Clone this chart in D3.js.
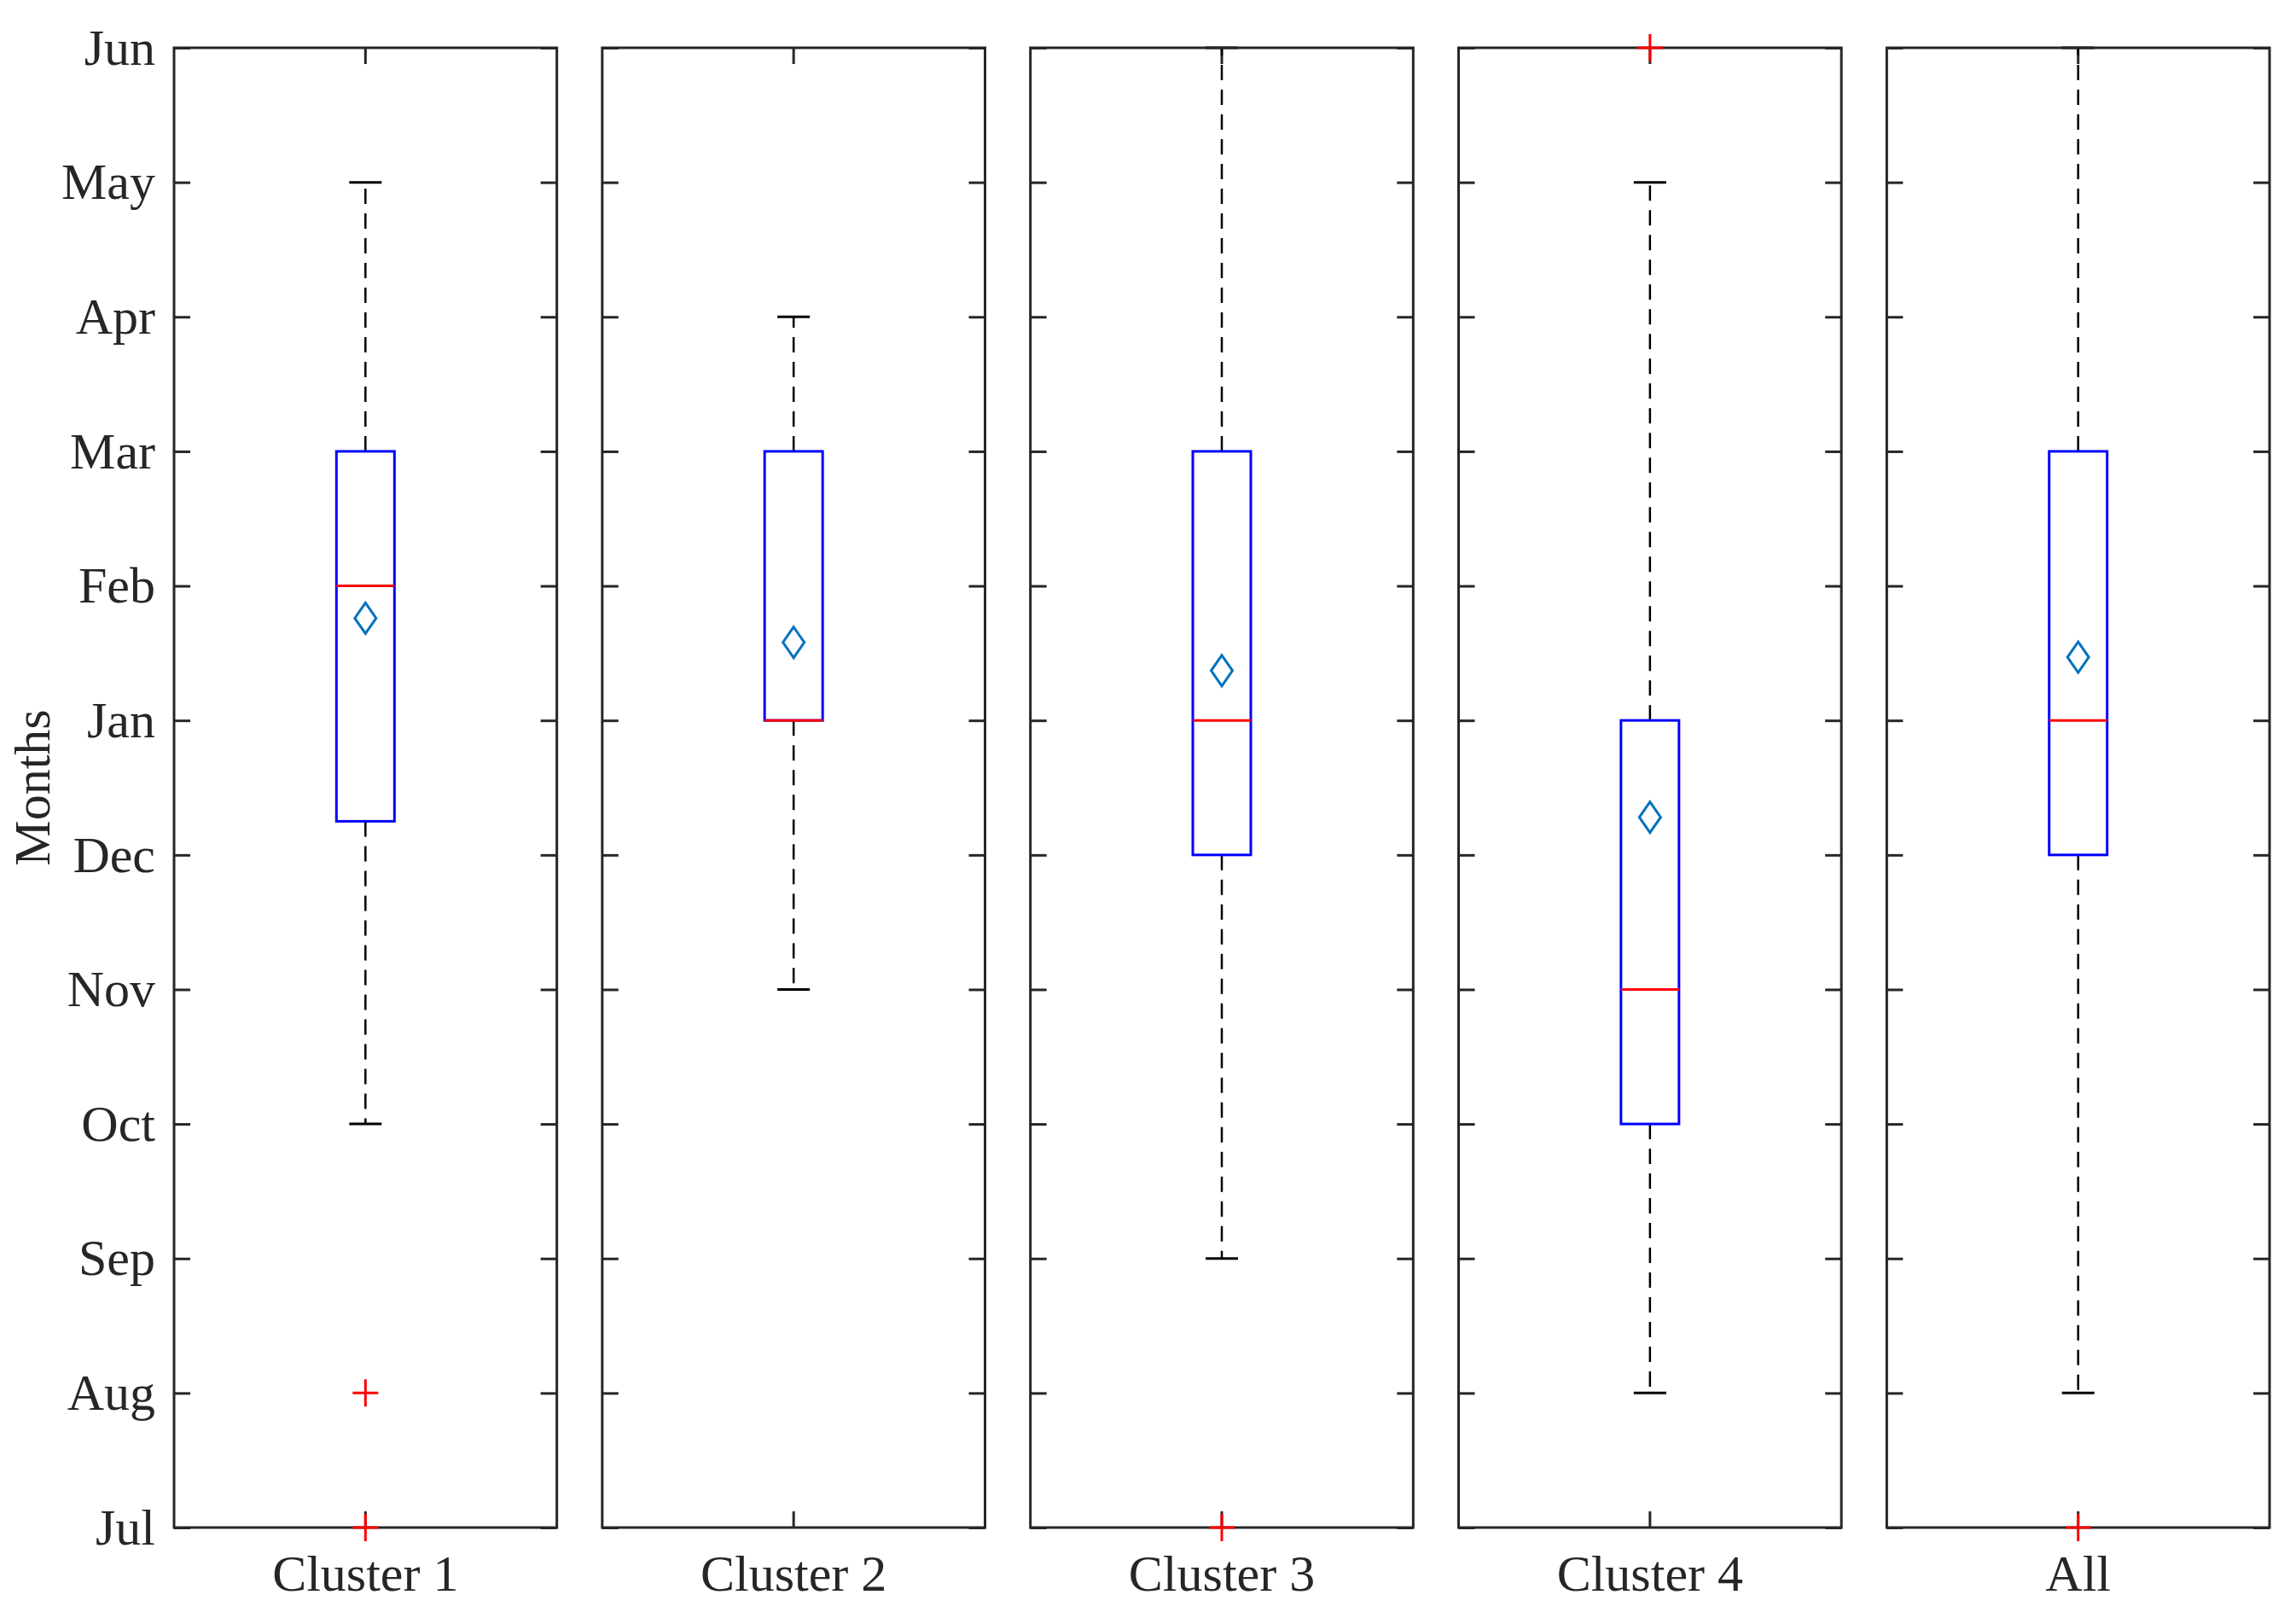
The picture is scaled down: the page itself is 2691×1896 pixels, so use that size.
<!DOCTYPE html>
<html>
<head>
<meta charset="utf-8">
<script src="https://cdn.jsdelivr.net/npm/d3@7"></script>
<style>
  body { margin: 0; background: #fff; }
  text { font-family: "Liberation Serif", serif; fill: #262626; }
</style>
</head>
<body>
<div id="chart"></div>
<script>
// box plot data, months counted from Jul = 0 up to Jun = 11
var categories = ["Cluster 1", "Cluster 2", "Cluster 3", "Cluster 4", "All"];
var whiskerLow = [3, 4, 2, 1, 1];
var q1 = [5.25, 6, 5, 3, 5];
var medians = [7, 6, 6, 4, 6];
var q3 = [8, 8, 8, 6, 8];
var whiskerHigh = [10, 9, 11, 10, 11];
var means = [6.76, 6.58, 6.37, 5.28, 6.47];
var outliers = [[1, 0], [], [0], [11], [0]];
var monthLabels = ["Jul", "Aug", "Sep", "Oct", "Nov", "Dec", "Jan", "Feb", "Mar", "Apr", "May", "Jun"];

var width = 2691, height = 1896;
var margin = {top: 56, left: 204, right: 31, bottom: 106};
var tickLen = 19;
var boxW = 68, capW = 38;
var fontSize = "60px";

var svg = d3.select("#chart")
    .append("svg")
    .attr("width", width)
    .attr("height", height);

var panelX = d3.scaleBand()
    .domain(categories)
    .range([margin.left, width - margin.right])
    .paddingInner(0.106);

var y = d3.scaleLinear()
    .domain([0, 11])
    .range([height - margin.bottom, margin.top]);

var months = d3.range(monthLabels.length);

categories.forEach(function(c, i) {
    var x0 = panelX(c), x1 = x0 + panelX.bandwidth();
    var x = d3.scaleBand().domain([c]).range([x0, x1]);
    var cx = x(c) + x.bandwidth() / 2;
    var g = svg.append("g");

    // left ticks (labels only on the first panel)
    g.append("g")
        .attr("transform", "translate(" + x0 + ",0)")
        .call(d3.axisLeft(y).tickValues(months)
            .tickFormat(function(d) { return i == 0 ? monthLabels[d] : ""; })
            .tickSizeInner(-tickLen).tickSizeOuter(0).tickPadding(22));
    g.append("g")
        .attr("transform", "translate(" + x1 + ",0)")
        .call(d3.axisRight(y).tickValues(months).tickFormat("")
            .tickSizeInner(-tickLen).tickSizeOuter(0));
    g.append("g")
        .attr("transform", "translate(0," + y(11) + ")")
        .call(d3.axisTop(x).tickFormat("").tickSizeInner(-tickLen).tickSizeOuter(0));
    g.append("g")
        .attr("transform", "translate(0," + y(0) + ")")
        .call(d3.axisBottom(x).tickSizeInner(-tickLen).tickSizeOuter(0).tickPadding(31));

    g.selectAll(".domain").remove();
    g.selectAll(".tick line").attr("stroke", "#262626").attr("stroke-width", 3);
    g.selectAll(".tick text")
        .style("font-size", fontSize)
        .attr("fill", "#262626");

    // whiskers
    g.append("line")
        .attr("x1", cx).attr("x2", cx)
        .attr("y1", y(q3[i])).attr("y2", y(whiskerHigh[i]))
        .attr("stroke", "#000").attr("stroke-width", 2.5)
        .attr("stroke-dasharray", "18,11");
    g.append("line")
        .attr("x1", cx).attr("x2", cx)
        .attr("y1", y(q1[i])).attr("y2", y(whiskerLow[i]))
        .attr("stroke", "#000").attr("stroke-width", 2.5)
        .attr("stroke-dasharray", "18,11");
    [whiskerLow[i], whiskerHigh[i]].forEach(function(v) {
        g.append("line")
            .attr("x1", cx - capW / 2).attr("x2", cx + capW / 2)
            .attr("y1", y(v)).attr("y2", y(v))
            .attr("stroke", "#000").attr("stroke-width", 3);
    });

    // box
    g.append("rect")
        .attr("x", cx - boxW / 2)
        .attr("y", y(q3[i]))
        .attr("width", boxW)
        .attr("height", y(q1[i]) - y(q3[i]))
        .attr("fill", "none")
        .attr("stroke", "#0000ff")
        .attr("stroke-width", 3);

    // median
    g.append("line")
        .attr("x1", cx - boxW / 2).attr("x2", cx + boxW / 2)
        .attr("y1", y(medians[i])).attr("y2", y(medians[i]))
        .attr("stroke", "#ff0000").attr("stroke-width", 3);

    // mean diamond
    var my = y(means[i]);
    g.append("path")
        .attr("d", "M" + cx + "," + (my - 18) + "L" + (cx + 12.5) + "," + my +
            "L" + cx + "," + (my + 18) + "L" + (cx - 12.5) + "," + my + "Z")
        .attr("fill", "none")
        .attr("stroke", "#0072bd")
        .attr("stroke-width", 3);

    // frame
    g.append("rect")
        .attr("x", x0).attr("y", y(11))
        .attr("width", x1 - x0).attr("height", y(0) - y(11))
        .attr("fill", "none")
        .attr("stroke", "#262626")
        .attr("stroke-width", 3);

    // outliers
    g.selectAll(".outlier")
        .data(outliers[i])
        .enter().append("path")
        .attr("class", "outlier")
        .attr("d", function(v) {
            var py = y(v);
            return "M" + (cx - 15) + "," + py + "h30M" + cx + "," + (py - 16) + "v32";
        })
        .attr("stroke", "#ff0000")
        .attr("stroke-width", 3);
});

svg.append("text")
    .attr("transform", "translate(58," + (y(0) + y(11)) / 2 + ") rotate(-90)")
    .attr("text-anchor", "middle")
    .style("font-size", fontSize)
    .text("Months");
</script>
</body>
</html>
